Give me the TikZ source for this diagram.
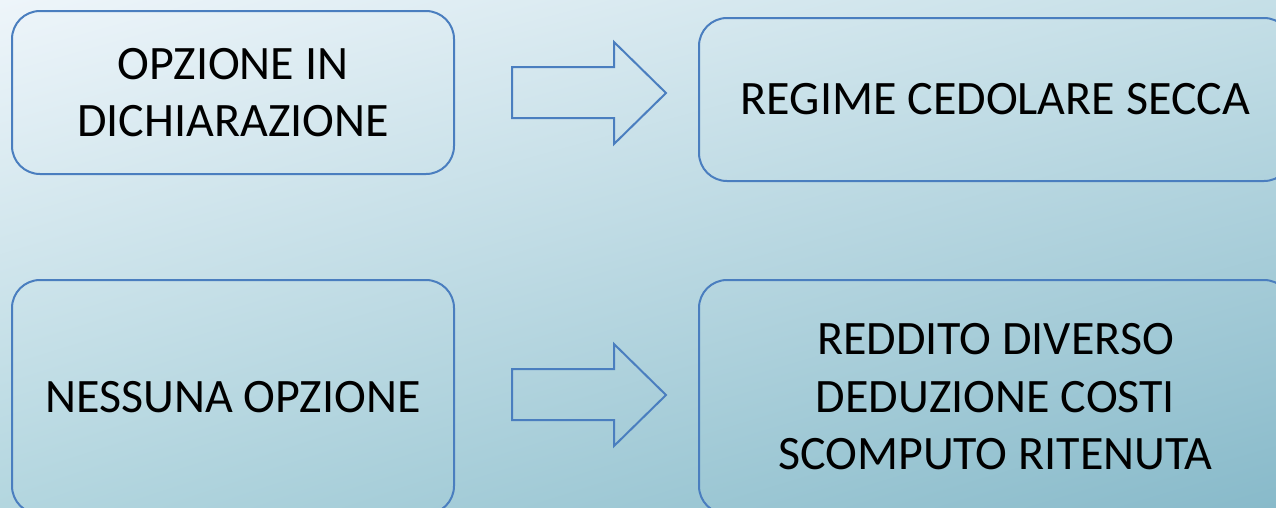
\documentclass[tikz,border=0pt]{standalone}
\usetikzlibrary{shadings}
\usepackage{fontspec}
\setmainfont{Carlito}
\definecolor{edge}{HTML}{4A7EBF}
\definecolor{ul}{HTML}{EEF5FA}
\definecolor{ur}{HTML}{C5DFE7}
\definecolor{ll}{HTML}{B3D6DF}
\definecolor{lr}{HTML}{88BACA}
\begin{document}
\begin{tikzpicture}[x=1pt,y=-1pt,
  box/.style={draw=edge, line width=2pt, rounded corners=28pt, align=center,
    inner sep=0pt, font=\fontsize{48}{57.5}\selectfont, text=black},
  blockarrow/.style={draw=edge, line width=2pt, line join=miter}]
\useasboundingbox (0,0) rectangle (1276,507);
\clip (0,0) rectangle (1276,507);
\shade[upper left=ul, upper right=ur, lower left=ll, lower right=lr] (0,0) rectangle (1276,507);
\node[box, minimum width=442pt, minimum height=163pt] (b1) at (233,92.5) {OPZIONE IN\\DICHIARAZIONE};
\node[box, minimum width=593pt, minimum height=163pt] (b2) at (995.5,99.5) {REGIME CEDOLARE SECCA};
\node[box, minimum width=442pt, minimum height=234pt] (b3) at (233,397) {NESSUNA OPZIONE};
\node[box, minimum width=593pt, minimum height=234pt] (b4) at (995.5,397) {REDDITO DIVERSO\\DEDUZIONE COSTI\\SCOMPUTO RITENUTA};
\draw[blockarrow] (512,67) -- (614,67) -- (614,42) -- (666,93) -- (614,144) -- (614,118) -- (512,118) -- cycle;
\draw[blockarrow] (512,369) -- (614,369) -- (614,344) -- (666,395) -- (614,446) -- (614,420) -- (512,420) -- cycle;
\end{tikzpicture}
\end{document}
